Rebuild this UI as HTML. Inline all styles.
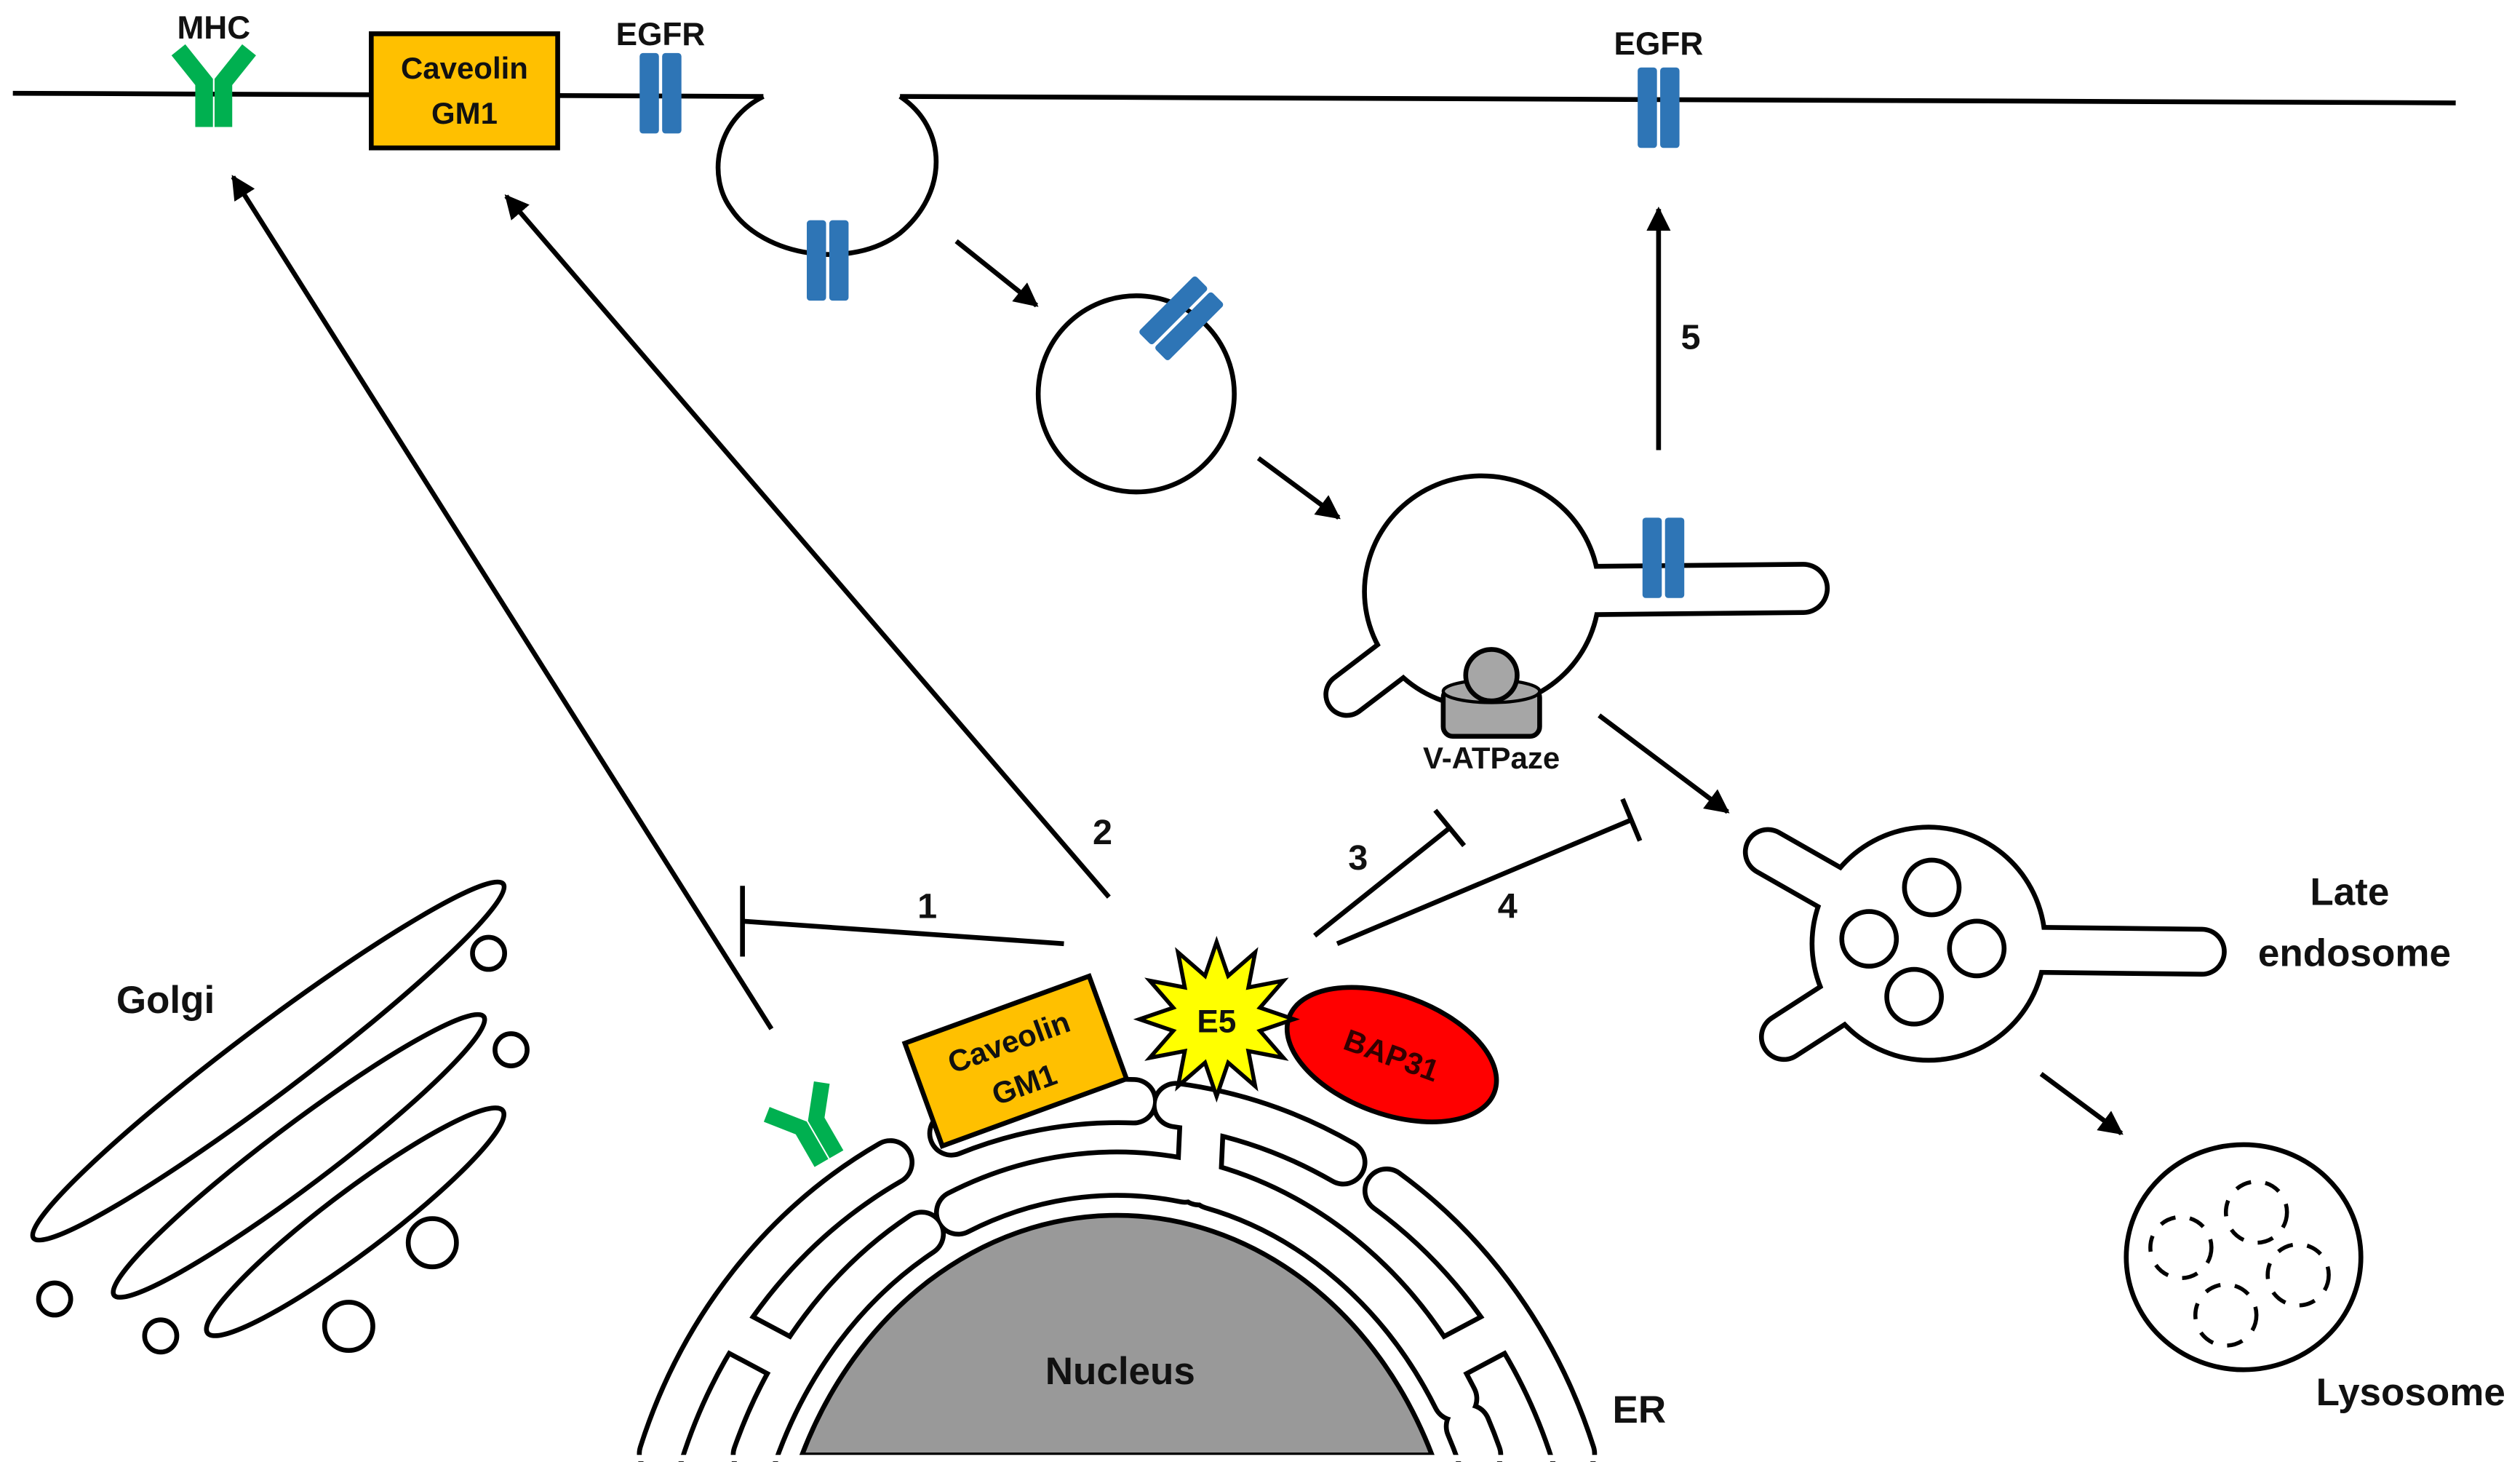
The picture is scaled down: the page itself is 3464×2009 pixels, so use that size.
<!DOCTYPE html>
<html><head><meta charset="utf-8"><style>
html,body{margin:0;padding:0;background:#fff;width:3464px;height:2009px;overflow:hidden;}
svg{display:block;overflow:hidden;}
text{font-family:"Liberation Sans",sans-serif;font-weight:bold;fill:#111;}
</style></head><body>
<svg width="3464" height="2009" viewBox="0 0 1568 909.4" preserveAspectRatio="none" xmlns="http://www.w3.org/2000/svg">
<defs>
<marker id="ah" viewBox="0 0 10 10" refX="9" refY="5" markerWidth="5" markerHeight="5" orient="auto" markerUnits="strokeWidth">
<path d="M0,0 L10,5 L0,10 z" fill="#000"/></marker>
<g id="egfr"><rect x="-13" y="-25" width="12" height="50" rx="2" fill="#2E75B6"/><rect x="1" y="-25" width="12" height="50" rx="2" fill="#2E75B6"/></g>
<g id="mhc"><polyline points="-22,-24 -6,-4 -6,24" fill="none" stroke="#00B050" stroke-width="11" stroke-linejoin="miter"/><polyline points="22,-24 6,-4 6,24" fill="none" stroke="#00B050" stroke-width="11"/></g>
</defs>
<rect width="1568" height="909" fill="#fff"/>
<g fill="none" stroke="#000" stroke-width="3">
<path d="M8,58 L475,60"/>
<path d="M560,60 L1528,64"/>
<path d="M475,60 C445,75 440,110 455,130 C475,160 530,168 560,145 C590,120 590,80 560,60"/>
</g>
<use href="#mhc" x="133" y="55"/>
<rect x="231" y="21" width="116" height="71" fill="#FFC000" stroke="#000" stroke-width="3"/>
<text x="289" y="49" font-size="19" text-anchor="middle">Caveolin</text>
<text x="289" y="77" font-size="19" text-anchor="middle">GM1</text>
<use href="#egfr" x="411" y="58"/>
<use href="#egfr" x="1032" y="67"/>
<use href="#egfr" x="515" y="162"/>
<text x="133" y="24" font-size="20" text-anchor="middle">MHC</text>
<text x="411" y="28" font-size="20" text-anchor="middle">EGFR</text>
<text x="1032" y="34" font-size="20" text-anchor="middle">EGFR</text>
<circle cx="707" cy="245" r="61" fill="#fff" stroke="#000" stroke-width="3"/>
<use href="#egfr" transform="translate(735,198) rotate(45)"/>
<g stroke="#000" stroke-width="3" fill="none">
<line x1="595" y1="150" x2="645" y2="190" marker-end="url(#ah)"/>
<line x1="783" y1="285" x2="833" y2="322" marker-end="url(#ah)"/>
<line x1="1032" y1="280" x2="1032" y2="130" marker-end="url(#ah)"/>
<line x1="995" y1="445" x2="1075" y2="505" marker-end="url(#ah)"/>
<line x1="1270" y1="668" x2="1320" y2="705" marker-end="url(#ah)"/>
<line x1="480" y1="640" x2="145" y2="110" marker-end="url(#ah)"/>
<line x1="690" y1="558" x2="315" y2="122" marker-end="url(#ah)"/>
<line x1="662" y1="587" x2="462" y2="573"/><line x1="462" y1="551" x2="462" y2="595"/>
<line x1="818" y1="582" x2="902" y2="515"/><line x1="893" y1="504" x2="911" y2="526"/>
<line x1="832" y1="587" x2="1015" y2="510"/><line x1="1009.6" y1="497" x2="1020.4" y2="523"/>
</g>
<g stroke-linecap="round">
<line x1="922" y1="368" x2="1122" y2="366" stroke="#000" stroke-width="33"/>
<line x1="922" y1="368" x2="838" y2="432" stroke="#000" stroke-width="29"/>
<ellipse cx="922" cy="368" rx="74.5" ry="73.5" fill="#000"/>
<line x1="922" y1="368" x2="1122" y2="366" stroke="#fff" stroke-width="27"/>
<line x1="922" y1="368" x2="838" y2="432" stroke="#fff" stroke-width="23"/>
<ellipse cx="922" cy="368" rx="71.5" ry="70.5" fill="#fff"/>
</g>
<use href="#egfr" x="1035" y="347"/>
<rect x="898" y="428" width="60" height="30" rx="6" fill="#A6A6A6" stroke="#000" stroke-width="3"/>
<ellipse cx="928" cy="430" rx="30" ry="7" fill="#A6A6A6" stroke="#000" stroke-width="2"/>
<circle cx="928" cy="420" r="16" fill="#A6A6A6" stroke="#000" stroke-width="3"/>
<text x="928" y="478" font-size="19" text-anchor="middle">V-ATPaze</text>
<g stroke-linecap="round">
<line x1="1200" y1="587" x2="1100" y2="530" stroke="#000" stroke-width="31"/>
<line x1="1200" y1="587" x2="1110" y2="645" stroke="#000" stroke-width="31"/>
<line x1="1200" y1="590" x2="1370" y2="592" stroke="#000" stroke-width="31"/>
<circle cx="1200" cy="587" r="74" fill="#000"/>
<line x1="1200" y1="587" x2="1100" y2="530" stroke="#fff" stroke-width="25"/>
<line x1="1200" y1="587" x2="1110" y2="645" stroke="#fff" stroke-width="25"/>
<line x1="1200" y1="590" x2="1370" y2="592" stroke="#fff" stroke-width="25"/>
<circle cx="1200" cy="587" r="71" fill="#fff"/>
</g>
<g fill="none" stroke="#000" stroke-width="3">
<circle cx="1202" cy="552" r="17"/><circle cx="1163" cy="584" r="17"/><circle cx="1230" cy="590" r="17"/><circle cx="1191" cy="620" r="17"/>
<ellipse cx="1396" cy="782" rx="73" ry="70"/>
<g stroke-dasharray="10,9" stroke-width="2.5">
<circle cx="1404" cy="754" r="19"/><circle cx="1357" cy="776" r="19"/><circle cx="1430" cy="793" r="19"/><circle cx="1385" cy="818" r="19"/>
</g>
<ellipse cx="167" cy="660" rx="183" ry="21" transform="rotate(-37 167 660)"/>
<ellipse cx="186" cy="719" rx="144" ry="19" transform="rotate(-37 186 719)"/>
<ellipse cx="221" cy="760" rx="115" ry="19" transform="rotate(-37 221 760)"/>
<circle cx="304" cy="593" r="10"/><circle cx="318" cy="653" r="10"/><circle cx="269" cy="773" r="15"/><circle cx="217" cy="825" r="15"/><circle cx="100" cy="831" r="10"/><circle cx="34" cy="808" r="10"/>
</g>
<text x="1462" y="563" font-size="24" text-anchor="middle">Late</text>
<text x="1465" y="601" font-size="24" text-anchor="middle">endosome</text>
<text x="1500" y="874" font-size="24" text-anchor="middle">Lysosome</text>
<text x="103" y="630" font-size="24" text-anchor="middle">Golgi</text>
<text x="577" y="571" font-size="22" text-anchor="middle">1</text>
<text x="686" y="525" font-size="22" text-anchor="middle">2</text>
<text x="845" y="541" font-size="22" text-anchor="middle">3</text>
<text x="938" y="571" font-size="22" text-anchor="middle">4</text>
<text x="1052" y="217" font-size="22" text-anchor="middle">5</text>
<g fill="none" stroke-linecap="round">
<g stroke="#000" stroke-width="30">
<path d="M411.3,904.2 A300,325 0 0 1 554,723"/>
<path d="M592,705 A300,325 0 0 1 705.5,685"/>
<path d="M731.6,687.4 A300,325 0 0 1 835.8,723"/>
<path d="M862.8,740.6 A300,325 0 0 1 978.7,904.2"/>
<path d="M469.7,905 A243,280 0 0 1 573.5,767.5"/>
<path d="M596.2,754.2 A243,280 0 0 1 737.2,734.3"/>
<path d="M753.8,738.3 A243,280 0 0 1 905.4,870"/>
<path d="M913.4,887.3 A243,280 0 0 1 920.3,905"/>
<line x1="748" y1="692" x2="746" y2="736"/>
<line x1="449" y1="824" x2="496" y2="849"/>
<line x1="941" y1="824" x2="894" y2="849"/>
</g>
<g stroke="#fff" stroke-width="24">
<path d="M411.3,904.2 A300,325 0 0 1 554,723"/>
<path d="M592,705 A300,325 0 0 1 705.5,685"/>
<path d="M731.6,687.4 A300,325 0 0 1 835.8,723"/>
<path d="M862.8,740.6 A300,325 0 0 1 978.7,904.2"/>
<path d="M469.7,905 A243,280 0 0 1 573.5,767.5"/>
<path d="M596.2,754.2 A243,280 0 0 1 737.2,734.3"/>
<path d="M753.8,738.3 A243,280 0 0 1 905.4,870"/>
<path d="M913.4,887.3 A243,280 0 0 1 920.3,905"/>
<line x1="748" y1="692" x2="746" y2="736"/>
<line x1="449" y1="824" x2="496" y2="849"/>
<line x1="941" y1="824" x2="894" y2="849"/>
</g>
</g>
<path d="M499,905 A215,253 0 0 1 891,905 Z" fill="#999" stroke="#000" stroke-width="3"/>
<rect x="0" y="905" width="1568" height="4" fill="#fff"/>
<text x="697" y="861" font-size="24" text-anchor="middle">Nucleus</text>
<text x="1020" y="885" font-size="24" text-anchor="middle">ER</text>
<use href="#mhc" transform="translate(505,702) rotate(-30) scale(0.9)"/>
<g transform="translate(632,660) rotate(-20)">
<rect x="-61" y="-34" width="122" height="68" fill="#FFC000" stroke="#000" stroke-width="3"/>
<text x="0" y="-6" font-size="19" text-anchor="middle">Caveolin</text>
<text x="0" y="22" font-size="19" text-anchor="middle">GM1</text>
</g>
<g transform="translate(866,656) rotate(20)">
<ellipse cx="0" cy="0" rx="68" ry="37" fill="#FF0000" stroke="#000" stroke-width="3"/>
<text x="0" y="7" font-size="19" text-anchor="middle" style="fill:#300">BAP31</text>
</g>
<polygon points="805,634 784,641.2 798.6,658 776.8,653.8 781,675.6 764.2,661 757,682 749.8,661 733,675.6 737.2,653.8 715.4,658 730,641.2 709,634 730,626.8 715.4,610 737.2,614.2 733,592.4 749.8,607 757,586 764.2,607 781,592.4 776.8,614.2 798.6,610 784,626.8" fill="#FFFF00" stroke="#000" stroke-width="2.5"/>
<text x="757" y="642" font-size="20" text-anchor="middle">E5</text>
</svg>
</body></html>
